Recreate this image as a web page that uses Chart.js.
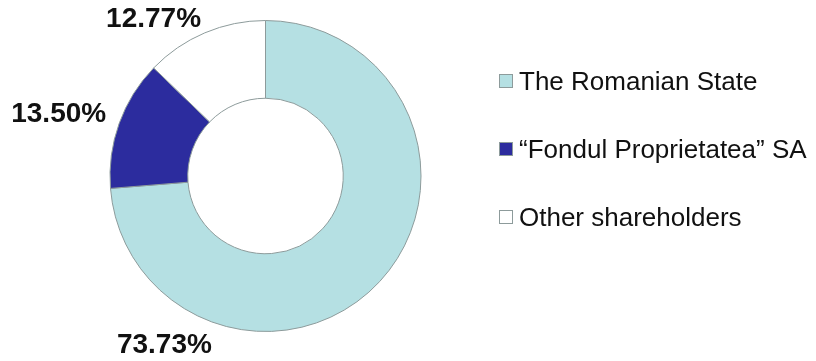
<!DOCTYPE html>
<html>
<head>
<meta charset="utf-8">
<script src="https://cdn.jsdelivr.net/npm/chart.js@4/dist/chart.umd.min.js"></script>
<style>
    html, body { margin: 0; padding: 0; background: #fff; }
    #wrap { position: relative; width: 816px; height: 361px; }
    #legend {
        position: absolute; left: 499px; top: 47px;
        font-family: "Liberation Sans", Arial, sans-serif; font-size: 26px; color: #111;
    }
    .legend-row { height: 68px; display: flex; align-items: center; white-space: nowrap; }
    .legend-box { width: 12px; height: 12px; border: 1px solid #8d9b9b; margin-right: 6px; }
</style>
</head>
<body>
<div id="wrap">
    <canvas id="chart" width="816" height="361"></canvas>
    <div id="legend"></div>
</div>
<script>
// shareholder structure
const labels = ['The Romanian State', '\u201CFondul Proprietatea\u201D SA', 'Other shareholders'];
const shares = [73.73, 13.50, 12.77];
const colors = ['#b5e0e3', '#2c2c9e', '#ffffff'];

// where each percentage sits, as a fraction of the outer radius from the centre
const labelOffsets = [[-0.65, 1.09], [-1.33, -0.40], [-0.72, -1.01]];

const percentLabels = {
    id: 'percentLabels',
    afterDatasetsDraw(chart) {
        const ctx = chart.ctx;
        const meta = chart.getDatasetMeta(0);
        ctx.save();
        ctx.font = 'bold 28px "Liberation Sans", Arial, sans-serif';
        ctx.fillStyle = '#111';
        ctx.textAlign = 'center';
        ctx.textBaseline = 'middle';
        meta.data.forEach((arc, i) => {
            const r = arc.outerRadius;
            const x = arc.x + labelOffsets[i][0] * r;
            const y = arc.y + labelOffsets[i][1] * r;
            ctx.fillText(shares[i].toFixed(2) + '%', x, y);
        });
        ctx.restore();
    }
};

new Chart(document.getElementById('chart'), {
    type: 'doughnut',
    data: {
        labels: labels,
        datasets: [{
            data: shares,
            backgroundColor: colors,
            borderColor: '#8d9b9b',
            borderWidth: 1
        }]
    },
    options: {
        responsive: false,
        animation: false,
        cutout: '50%',
        layout: { padding: { left: 0, right: 285, top: 20, bottom: 29 } },
        plugins: {
            legend: { display: false },
            tooltip: { enabled: false }
        }
    },
    plugins: [percentLabels]
});

// legend built from the same arrays
const legend = document.getElementById('legend');
labels.forEach((label, i) => {
    const row = document.createElement('div');
    row.className = 'legend-row';
    row.innerHTML = `<div class="legend-box" style="background:${colors[i]}"></div><span>${label}</span>`;
    legend.appendChild(row);
});
</script>
</body>
</html>
